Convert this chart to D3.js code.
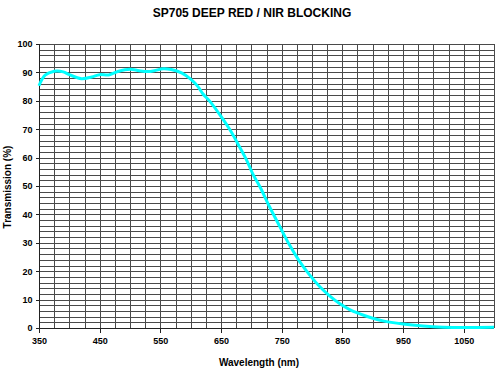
<!DOCTYPE html>
<html>
<head>
<meta charset="utf-8">
<script src="https://cdn.jsdelivr.net/npm/d3@7"></script>
<style>
  html, body { margin: 0; padding: 0; background: #fff; }
  svg { display: block; font-family: "Liberation Sans", Arial, sans-serif; }
</style>
</head>
<body>
<svg id="chart" width="500" height="375"></svg>
<script>
// Data
const wavelengths = [350, 360, 375, 390, 400, 420, 437, 450, 465, 480, 500, 515, 530, 540, 555, 568, 585, 600, 612, 620, 632, 650, 665, 680, 692, 703, 715, 730, 747, 763, 780, 796, 813, 829, 846, 862, 879, 895, 917, 950, 983, 1016, 1055, 1100];
const transmission = [85.3, 89.0, 90.4, 90.2, 89.2, 87.8, 88.4, 89.2, 89.1, 90.3, 91.1, 90.6, 90.3, 90.6, 91.3, 91.0, 89.8, 87.6, 85.0, 82.5, 79.7, 74.5, 69.7, 64.0, 59.2, 54.0, 49.4, 42.7, 35.7, 29.2, 23.3, 18.7, 14.5, 11.3, 8.5, 6.5, 5.0, 3.8, 2.5, 1.4, 0.7, 0.3, 0.2, 0.3];
const xTickLabels = [350, 450, 550, 650, 750, 850, 950, 1050];
const yTickLabels = [0, 10, 20, 30, 40, 50, 60, 70, 80, 90, 100];
const titleText = "SP705 DEEP RED / NIR BLOCKING";
const xTitle = "Wavelength (nm)";
const yTitle = "Transmission (%)";

const svg = d3.select("#chart");
const pL = 39, pR = 494, pT = 44, pB = 328;

const x = d3.scaleLinear().domain([350, 1100]).range([pL, pR]);
const y = d3.scaleLinear().domain([0, 100]).range([pB, pT]);

// Grid
const grid = svg.append("g").attr("shape-rendering", "crispEdges");
grid.selectAll("line.h").data(d3.range(0, 101, 2)).join("line")
  .attr("x1", pL).attr("x2", pR)
  .attr("y1", d => Math.round(y(d)) + 0.5).attr("y2", d => Math.round(y(d)) + 0.5)
  .attr("stroke", "#4a4a4a").attr("stroke-width", 1);
grid.selectAll("line.v").data(d3.range(350, 1101, 25)).join("line")
  .attr("y1", pT).attr("y2", pB)
  .attr("x1", d => Math.round(x(d)) + 0.5).attr("x2", d => Math.round(x(d)) + 0.5)
  .attr("stroke", "#4a4a4a").attr("stroke-width", 1);

// Axes
const xAxis = d3.axisBottom(x).tickValues(xTickLabels).tickSize(4).tickPadding(5).tickFormat(d3.format("d"));
const yAxis = d3.axisLeft(y).tickValues(yTickLabels).tickSize(4).tickPadding(3).tickFormat(d3.format("d"));

const gx = svg.append("g").attr("transform", `translate(0,${Math.round(pB) + 0.5})`).call(xAxis);
const gy = svg.append("g").attr("transform", `translate(${Math.round(pL) + 0.5},0)`).call(yAxis);
[gx, gy].forEach(g => {
  g.select(".domain").attr("stroke", "#222").attr("shape-rendering", "crispEdges");
  g.selectAll(".tick line").attr("stroke", "#222").attr("shape-rendering", "crispEdges");
  g.selectAll(".tick text").attr("font-family", '"Liberation Sans", Arial, sans-serif')
    .attr("font-size", 9).attr("font-weight", "bold").attr("fill", "#000");
});
gx.select(".domain").attr("d", `M${pL},0H${pR}`);
gy.select(".domain").attr("d", `M0,${pT}V${pB}`);

// Curve
const pts = wavelengths.map((w, i) => [w, transmission[i]]);
const line = d3.line().x(d => x(d[0])).y(d => y(d[1])).curve(d3.curveCatmullRom.alpha(0.5));
svg.append("path").datum(pts)
  .attr("d", line)
  .attr("fill", "none")
  .attr("stroke", "#00FFFF")
  .attr("stroke-width", 3)
  .attr("stroke-linejoin", "round");

// Titles
svg.append("text").attr("x", 252).attr("y", 17).attr("text-anchor", "middle")
  .attr("font-size", 12).attr("font-weight", "bold").text(titleText);
svg.append("text").attr("x", 259).attr("y", 366).attr("text-anchor", "middle")
  .attr("font-size", 10).attr("font-weight", "bold").text(xTitle);
svg.append("text").attr("transform", `translate(11,${(pT + pB) / 2 + 1}) rotate(-90)`)
  .attr("text-anchor", "middle")
  .attr("font-size", 10).attr("font-weight", "bold").text(yTitle);
</script>
</body>
</html>
